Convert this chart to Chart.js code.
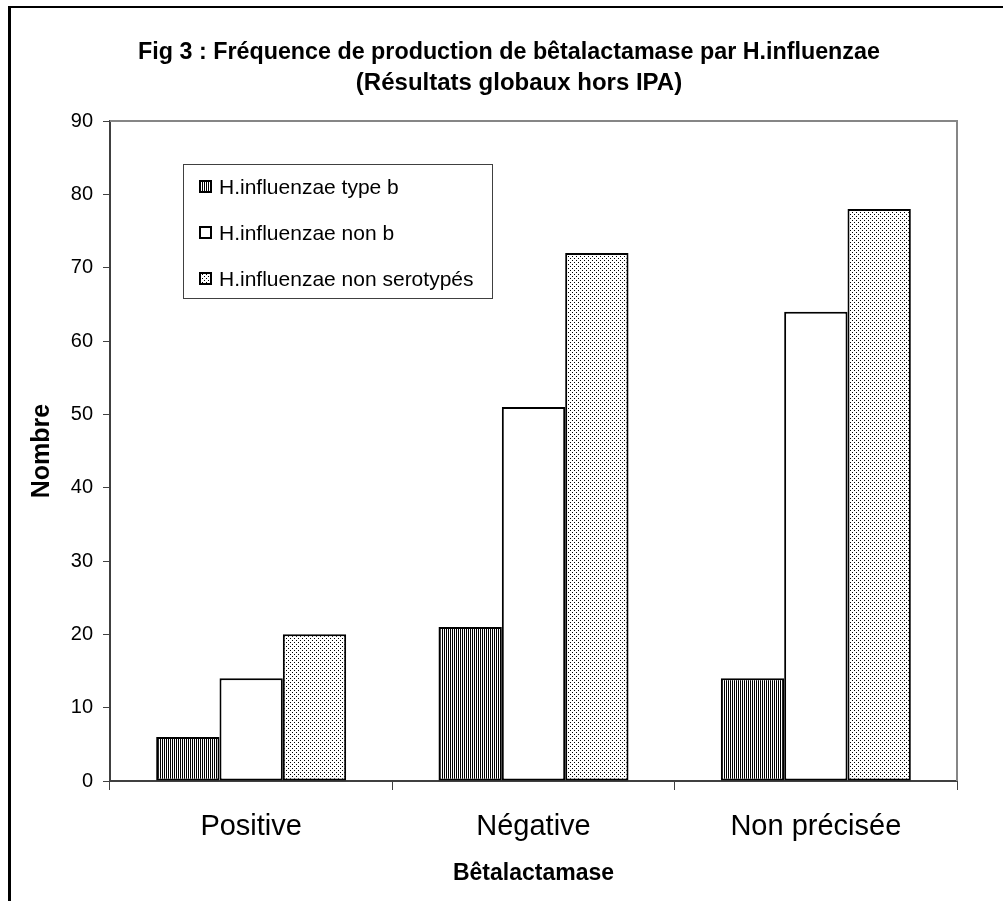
<!DOCTYPE html>
<html>
<head>
<meta charset="utf-8">
<script src="https://cdn.jsdelivr.net/npm/chart.js@4.4.1/dist/chart.umd.min.js"></script>
<style>
	body { margin: 0; background: #fff; }
	#wrap { width: 1003px; height: 901px; }
</style>
</head>
<body>
<div id="wrap"><canvas id="chart" width="1003" height="901"></canvas></div>
<script>
	'use strict';

	// Data.
	const categories = ['Positive', 'Négative', 'Non précisée'];
	const seriesLabels = ['H.influenzae type b', 'H.influenzae non b', 'H.influenzae non serotypés'];
	const typeB = [6, 21, 14];
	const nonB = [14, 51, 64];
	const nonSerotypes = [20, 72, 78];
	const yTicks = [0, 10, 20, 30, 40, 50, 60, 70, 80, 90];
	const titleLines = [
		'Fig 3 : Fréquence de production de bêtalactamase par H.influenzae',
		'(Résultats globaux hors IPA)'
	];

	const FONT = '"Liberation Sans", Arial, sans-serif';

	/**
	 * Build a small repeating canvas pattern.
	 */
	function makePattern(w, h, dots) {
		const c = document.createElement('canvas');
		c.width = w;
		c.height = h;
		const g = c.getContext('2d');
		g.fillStyle = '#fff';
		g.fillRect(0, 0, w, h);
		g.fillStyle = '#000';
		dots.forEach(function(d) {
			g.fillRect(d[0], d[1], 1, 1);
		});
		return g.createPattern(c, 'repeat');
	}

	// Vertical stripes and a light dot screen, like the old Excel fills.
	const stripes = makePattern(2, 1, [[0, 0]]);
	const dotted = makePattern(4, 4, [[0, 0], [2, 2]]);
	const fills = [stripes, '#ffffff', dotted];

	// Frame lines on the left and top of the picture, plus the title.
	const framePlugin = {
		id: 'frame',
		beforeDraw: function(chart) {
			const ctx = chart.ctx;
			ctx.save();
			ctx.fillStyle = '#fff';
			ctx.fillRect(0, 0, chart.width, chart.height);
			ctx.fillStyle = '#000';
			ctx.fillRect(8, 6, 3, chart.height - 6);
			ctx.fillRect(8, 6, chart.width - 8, 2);

			// Title is centred on the page, not on the plot.
			ctx.textAlign = 'center';
			ctx.textBaseline = 'middle';
			ctx.font = 'bold 23.3px ' + FONT;
			ctx.fillText(titleLines[0], 509, 53);
			ctx.font = 'bold 24px ' + FONT;
			ctx.fillText(titleLines[1], 519, 83);
			ctx.restore();
		},
		afterDraw: function(chart) {
			// Grey top and right edge of the plot area.
			const a = chart.chartArea;
			const ctx = chart.ctx;
			ctx.save();
			ctx.strokeStyle = '#868686';
			ctx.lineWidth = 2;
			ctx.beginPath();
			ctx.moveTo(a.left, a.top);
			ctx.lineTo(a.right, a.top);
			ctx.lineTo(a.right, a.bottom);
			ctx.stroke();
			ctx.restore();
		}
	};

	// Boxed legend drawn inside the plot area.
	const boxLegendPlugin = {
		id: 'boxLegend',
		afterDraw: function(chart) {
			const a = chart.chartArea;
			const ctx = chart.ctx;
			const x = a.left + 73;
			const y = a.top + 43;
			const w = 309;
			const h = 134;
			ctx.save();
			ctx.fillStyle = '#fff';
			ctx.fillRect(x, y, w, h);
			ctx.strokeStyle = '#404040';
			ctx.lineWidth = 1;
			ctx.strokeRect(x + 0.5, y + 0.5, w, h);

			ctx.font = '21px ' + FONT;
			ctx.textBaseline = 'middle';
			chart.data.datasets.forEach(function(ds, i) {
				const cy = y + 23 + i * 46;
				ctx.fillStyle = ds.backgroundColor;
				ctx.fillRect(x + 17, cy - 6, 11, 11);
				ctx.strokeStyle = '#000';
				ctx.lineWidth = 2;
				ctx.strokeRect(x + 17, cy - 6, 11, 11);
				ctx.fillStyle = '#000';
				ctx.fillText(ds.label, x + 36, cy + 1);
			});
			ctx.restore();
		}
	};

	const ctx = document.getElementById('chart').getContext('2d');
	new Chart(ctx, {
		type: 'bar',
		data: {
			labels: categories,
			datasets: [typeB, nonB, nonSerotypes].map(function(values, i) {
				return {
					label: seriesLabels[i],
					data: values,
					backgroundColor: fills[i],
					borderColor: '#000',
					borderWidth: 2,
					borderSkipped: false,
					categoryPercentage: 0.673,
					barPercentage: 1
				};
			})
		},
		options: {
			responsive: false,
			devicePixelRatio: 1,
			animation: false,
			layout: {
				padding: { left: 10, right: 46, top: 121, bottom: 0 }
			},
			plugins: {
				legend: { display: false },
				tooltip: { enabled: false },
				title: { display: false }
			},
			scales: {
				x: {
					offset: true,
					grid: {
						display: true,
						offset: true,
						drawOnChartArea: false,
						drawTicks: true,
						tickLength: 9,
						color: '#404040',
						lineWidth: 1
					},
					border: { display: true, color: '#404040', width: 2 },
					ticks: {
						color: '#000',
						padding: 20,
						font: { family: FONT, size: 29 }
					},
					title: {
						display: true,
						text: 'Bêtalactamase',
						color: '#000',
						font: { family: FONT, size: 23, weight: 'bold' },
						padding: { top: 0, bottom: 14 }
					},
					afterFit: function(scale) {
						scale.height = 120;
					}
				},
				y: {
					min: yTicks[0],
					max: yTicks[yTicks.length - 1],
					afterBuildTicks: function(scale) {
						scale.ticks = yTicks.map(function(v) { return { value: v }; });
					},
					grid: {
						display: true,
						drawOnChartArea: false,
						drawTicks: true,
						tickLength: 7,
						color: '#404040',
						lineWidth: 1
					},
					border: { display: true, color: '#404040', width: 2 },
					ticks: {
						color: '#000',
						padding: 10,
						font: { family: FONT, size: 20 }
					},
					title: {
						display: true,
						text: 'Nombre',
						color: '#000',
						font: { family: FONT, size: 25, weight: 'bold' },
						padding: { top: 17, bottom: 0 }
					},
					afterFit: function(scale) {
						scale.width = 100;
					}
				}
			}
		},
		plugins: [framePlugin, boxLegendPlugin]
	});
</script>
</body>
</html>
